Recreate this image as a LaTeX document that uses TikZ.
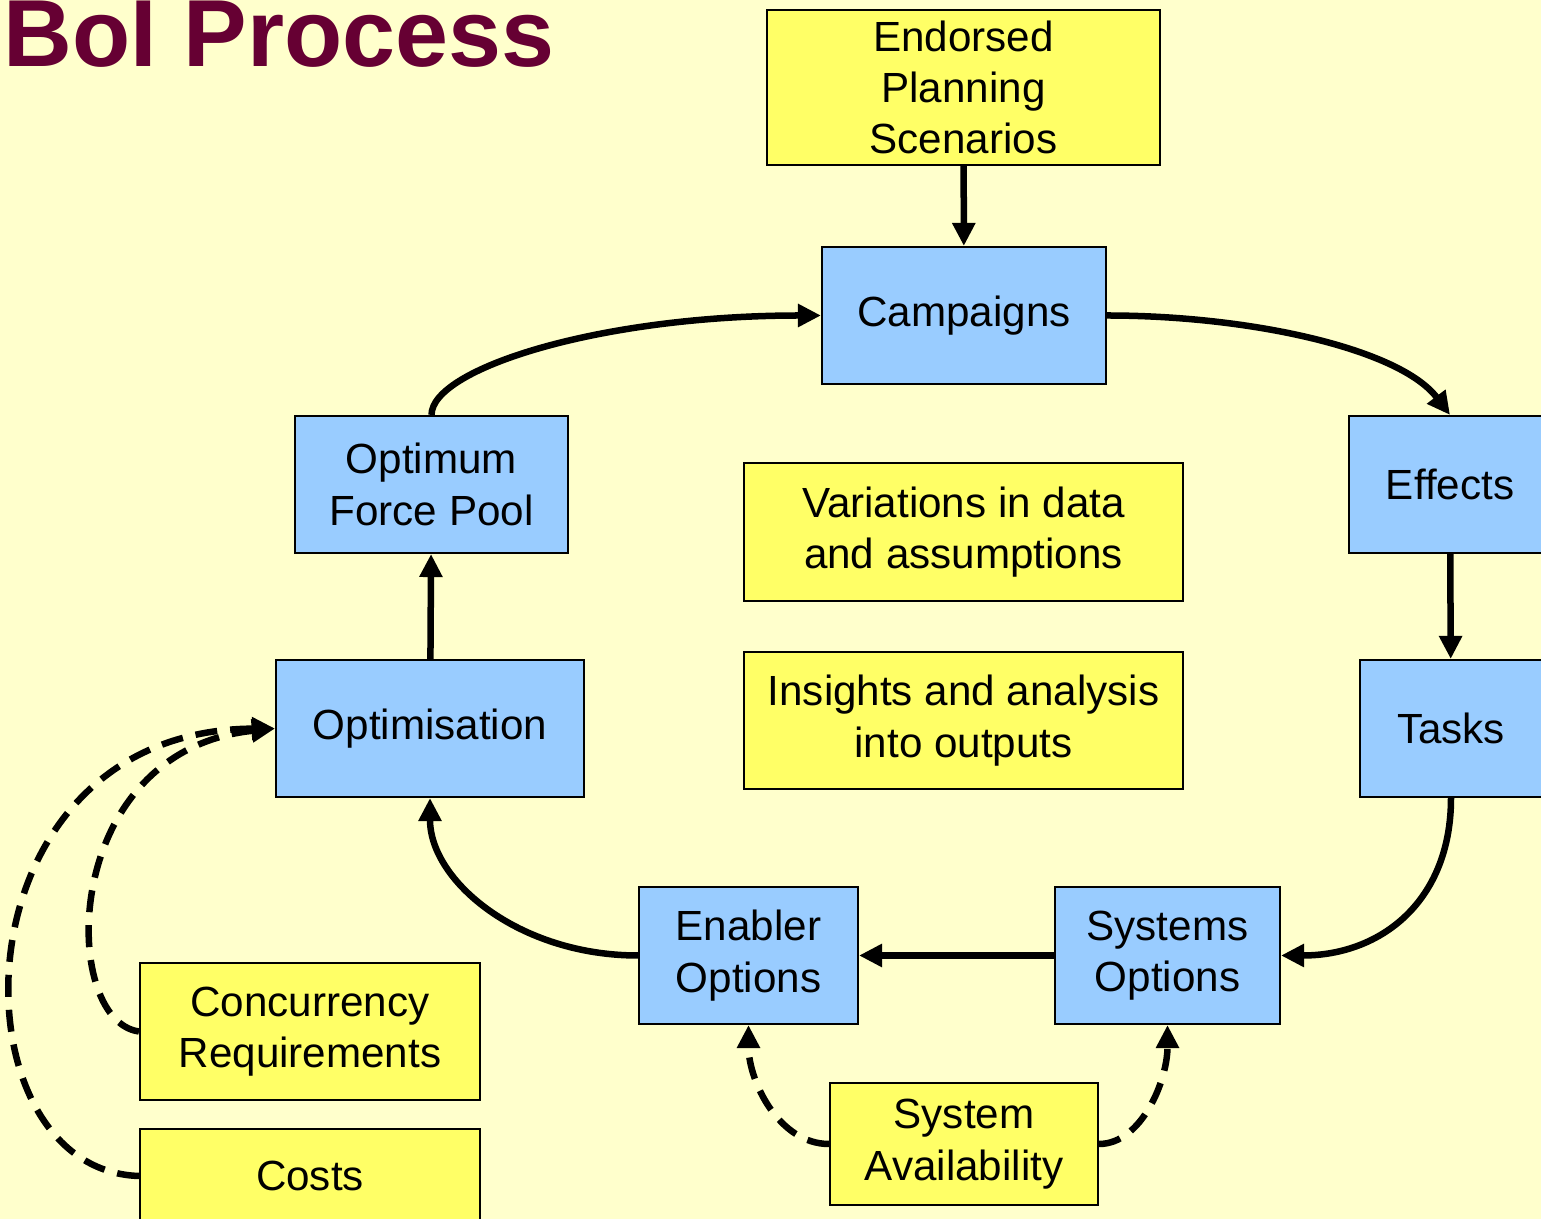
\documentclass[tikz,border=0pt]{standalone}
\usepackage{fontspec}
\setmainfont{Liberation Sans}
\usetikzlibrary{arrows.meta}
\definecolor{bgyellow}{HTML}{FFFFCC}
\definecolor{boxyellow}{HTML}{FFFF66}
\definecolor{boxblue}{HTML}{99CCFF}
\definecolor{titlered}{HTML}{660033}
\tikzset{
 box/.style={draw, rectangle, line width=0.6pt, align=center, inner sep=0pt, font=\fontsize{12}{14.6}\selectfont},
 bluebox/.style={box, fill=boxblue},
 yellowbox/.style={box, fill=boxyellow},
 flow/.style={line width=1.85pt, -{Triangle[length=0.23cm,width=0.22cm]}},
 dashflow/.style={flow, dash pattern=on 0.22cm off 0.13cm},
}
\begin{document}
\begin{tikzpicture}
 \useasboundingbox (0,0) rectangle (15.41,-12.19);
 \clip (0,0) rectangle (15.41,-12.19);
 \fill[bgyellow] (0,0) rectangle (15.41,-12.19);

 \node[anchor=base west, inner sep=0pt, text=titlered, font=\fontsize{27.1}{30}\selectfont\bfseries] (title) at (0.03,-0.67) {BoI Process};

 \node[yellowbox, minimum width=3.93cm, minimum height=1.55cm] (endorsed) at (9.635,-0.875) {Endorsed\\Planning\\Scenarios};
 \node[bluebox, minimum width=2.84cm, minimum height=1.37cm] (campaigns) at (9.64,-3.155) {Campaigns};
 \node[bluebox, minimum width=2.02cm, minimum height=1.37cm] (effects) at (14.50,-4.845) {Effects};
 \node[bluebox, minimum width=1.82cm, minimum height=1.37cm] (tasks) at (14.51,-7.285) {Tasks};
 \node[bluebox, minimum width=2.25cm, minimum height=1.37cm] (systems) at (11.675,-9.555) {Systems\\Options};
 \node[bluebox, minimum width=2.19cm, minimum height=1.37cm] (enabler) at (7.485,-9.555) {Enabler\\Options};
 \node[bluebox, minimum width=3.08cm, minimum height=1.37cm] (optimisation) at (4.30,-7.285) {Optimisation};
 \node[bluebox, minimum width=2.73cm, minimum height=1.37cm] (forcepool) at (4.315,-4.845) {Optimum\\Force Pool};

 \node[yellowbox, minimum width=4.39cm, minimum height=1.38cm] (variations) at (9.635,-5.32) {Variations in data\\and assumptions};
 \node[yellowbox, minimum width=4.39cm, minimum height=1.37cm] (insights) at (9.635,-7.205) {Insights and analysis\\into outputs};
 \node[yellowbox, minimum width=2.68cm, minimum height=1.22cm] (availability) at (9.64,-11.44) {System\\Availability};
 \node[yellowbox, minimum width=3.40cm, minimum height=1.37cm] (concurrency) at (3.10,-10.315) {Concurrency\\Requirements};
 \node[yellowbox, minimum width=3.40cm, minimum height=0.94cm] (costs) at (3.10,-11.76) {Costs};

 \draw[flow] (endorsed) -- (campaigns);
 \draw[flow] (campaigns.east) .. controls +(1.44,0) and +(-0.5,0.66) .. (effects.north);
 \draw[flow] (effects) -- (tasks);
 \draw[flow] (tasks.south) .. controls +(0,-1.03) and +(1.0,0) .. (systems.east);
 \draw[flow] (systems) -- (enabler);
 \draw[flow] (enabler.west) .. controls +(-1.19,0) and +(0,-0.83) .. (optimisation.south);
 \draw[flow] (optimisation) -- (forcepool);
 \draw[flow] (forcepool.north) .. controls +(0,0.46) and +(-2.22,0) .. (campaigns.west);

 \draw[dashflow] (concurrency.west) .. controls +(-0.8,0.11) and +(-2.16,-0.22) .. (optimisation.west);
 \draw[dashflow] (costs.west) .. controls +(-1.9,0.06) and +(-3.26,-0.02) .. (optimisation.west);
 \draw[dashflow] (availability.west) .. controls +(-0.5,0) and +(0,-0.56) .. (enabler.south);
 \draw[dashflow] (availability.east) .. controls +(0.42,0) and +(0,-0.56) .. (systems.south);
\end{tikzpicture}
\end{document}
